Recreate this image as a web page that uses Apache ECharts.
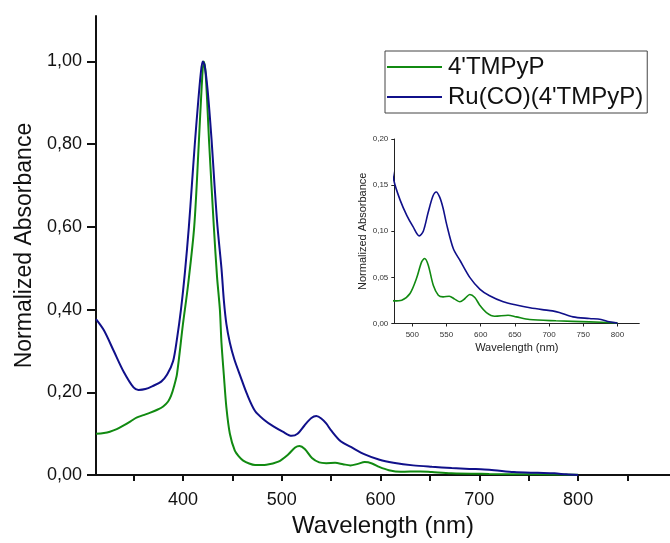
<!DOCTYPE html>
<html>
  <head>
    <meta http-equiv="content-type" content="text/html; charset=UTF-8">
    <title>Normalized absorbance</title>
    <script src="https://cdn.jsdelivr.net/npm/echarts@6/dist/echarts.min.js"></script>
    <style>
      html, body { margin: 0; padding: 0; background: #fff; }
      #main { width: 670px; height: 543px; }
    </style>
  </head>
  <body>
    <div id="main"></div>
    <script>
      // Ru(CO)(4'TMPyP) - blue
      var ruNm = [312, 320, 330, 340, 350, 355, 362, 370, 378, 384, 390, 394, 398, 402, 406, 409, 412, 415, 418, 420,
                  422, 425, 429, 432, 435, 439, 441.5, 444, 447.5, 452, 458, 465, 473, 482, 492, 501, 510, 516, 523, 530,
                  535, 540, 545, 550, 560, 570, 584, 599, 613, 633, 652, 672, 690, 705, 715, 735, 759, 776, 788, 800];
      var ruAbs = [0.377, 0.35, 0.30, 0.25, 0.212, 0.206, 0.208, 0.216, 0.226, 0.243, 0.275, 0.33, 0.40, 0.49, 0.60, 0.70, 0.80, 0.89, 0.97, 1.0,
                   0.99, 0.93, 0.81, 0.70, 0.60, 0.50, 0.42, 0.365, 0.32, 0.28, 0.24, 0.195, 0.155, 0.134, 0.117, 0.105, 0.095, 0.100, 0.120, 0.138,
                   0.1426, 0.137, 0.125, 0.108, 0.081, 0.068, 0.050, 0.037, 0.030, 0.0235, 0.020, 0.017, 0.015, 0.0137, 0.012, 0.0072, 0.0054, 0.0043, 0.0018, 0.0004];

      // 4'TMPyP - green
      var tmpNm = [312, 320, 326, 333, 340, 347, 353, 360, 367, 374, 380, 385, 388, 391, 394, 400, 405, 411.4, 416, 419,
                   421, 423, 426.6, 431.3, 434.5, 437.4, 439, 441.4, 444, 447.5, 452.5, 457, 461, 467, 473, 484.5, 496.6, 506, 513.6, 518,
                   523.3, 530.6, 538, 545, 554, 562, 569.5, 577, 584, 591.4, 598.6, 608.4, 620.5, 640, 652, 671.5, 710, 759, 800];
      var tmpAbs = [0.100, 0.102, 0.105, 0.111, 0.120, 0.130, 0.139, 0.145, 0.151, 0.158, 0.166, 0.178, 0.192, 0.215, 0.245, 0.365, 0.456, 0.60, 0.80, 0.94,
                    1.0, 0.97, 0.80, 0.60, 0.48, 0.40, 0.32, 0.242, 0.163, 0.10, 0.059, 0.044, 0.035, 0.028, 0.0245, 0.0253, 0.0325, 0.0487, 0.0668, 0.0704,
                    0.0632, 0.0415, 0.0307, 0.0289, 0.0296, 0.0264, 0.0235, 0.0271, 0.0314, 0.0282, 0.0199, 0.0119, 0.0079, 0.009, 0.0072, 0.0043, 0.0029, 0.0018, 0.0007];

      var xLabels = [400, 500, 600, 700, 800];
      var xTicks = [350, 400, 450, 500, 550, 600, 650, 700, 750, 800, 850];
      var yLabels = [0, 0.2, 0.4, 0.6, 0.8, 1.0];
      var insetXLabels = [500, 550, 600, 650, 700, 750, 800];

      var GREEN = '#118a11';
      var BLUE = '#10108a';
      var FONT = 'Liberation Sans, Arial, sans-serif';

      function pairs(xs, ys) {
        var out = [];
        for (var i = 0; i < xs.length; i++) out.push([xs[i], ys[i]]);
        return out;
      }
      function comma(v) { return v.toFixed(2).replace('.', ','); }

      var ruData = pairs(ruNm, ruAbs);
      var tmpData = pairs(tmpNm, tmpAbs);

      var chart = echarts.init(document.getElementById('main'));
      var option = {
        backgroundColor: '#fff',
        animation: false,
        textStyle: { fontFamily: FONT },
        legend: {
          orient: 'vertical',
          left: 385,
          top: 51,
          padding: [3, 4, 3, 2],
          itemGap: 4,
          icon: 'rect',
          itemWidth: 55,
          itemHeight: 2,
          borderColor: '#444',
          borderWidth: 1,
          textStyle: { fontSize: 24, color: '#111', lineHeight: 26, padding: [0, 0, 0, 1] },
          data: ["4'TMPyP", "Ru(CO)(4'TMPyP)"]
        },
        grid: [
          { left: 96, top: 16, right: 0, bottom: 61.5 },
          { left: 394.3, top: 139, right: 30.7, bottom: 219.5 }
        ],
        xAxis: [
          {
            gridIndex: 0, type: 'value', min: 312, max: 893,
            name: 'Wavelength (nm)', nameLocation: 'middle', nameGap: 36,
            nameTextStyle: { fontSize: 24, color: '#111' },
            axisLine: { lineStyle: { color: '#111', width: 2 } },
            axisTick: { customValues: xTicks, length: 6, lineStyle: { color: '#111', width: 2 } },
            axisLabel: { customValues: xLabels, fontSize: 18, color: '#111', margin: 16 },
            splitLine: { show: false }
          },
          {
            gridIndex: 1, type: 'value', min: 473.6, max: 832,
            name: 'Wavelength (nm)', nameLocation: 'middle', nameGap: 19,
            nameTextStyle: { fontSize: 11, color: '#222' },
            axisLine: { lineStyle: { color: '#222', width: 1 } },
            axisTick: { customValues: insetXLabels, length: 3, lineStyle: { color: '#222' } },
            axisLabel: { customValues: insetXLabels, fontSize: 8, color: '#333', margin: 7 },
            splitLine: { show: false }
          }
        ],
        yAxis: [
          {
            gridIndex: 0, type: 'value', min: 0, max: 1.11,
            name: 'Normalized Absorbance', nameLocation: 'middle', nameGap: 60,
            nameTextStyle: { fontSize: 23, color: '#111' },
            axisLine: { show: true, lineStyle: { color: '#111', width: 2 } },
            axisTick: { show: true, customValues: yLabels, length: 9, lineStyle: { color: '#111', width: 2 } },
            axisLabel: { customValues: yLabels, fontSize: 18, color: '#111', margin: 14, formatter: comma },
            splitLine: { show: false }
          },
          {
            gridIndex: 1, type: 'value', min: 0, max: 0.2, interval: 0.05,
            name: 'Normalized Absorbance', nameLocation: 'middle', nameGap: 25,
            nameTextStyle: { fontSize: 11, color: '#222' },
            axisLine: { show: true, lineStyle: { color: '#222', width: 1 } },
            axisTick: { show: true, length: 3, lineStyle: { color: '#222' } },
            axisLabel: { fontSize: 8, color: '#333', margin: 6, formatter: comma },
            splitLine: { show: false }
          }
        ],
        series: [
          {
            name: "4'TMPyP", type: 'line', xAxisIndex: 0, yAxisIndex: 0,
            data: tmpData, smooth: 0.3, symbol: 'none', clip: true,
            lineStyle: { color: GREEN, width: 2 }, itemStyle: { color: GREEN }
          },
          {
            name: "Ru(CO)(4'TMPyP)", type: 'line', xAxisIndex: 0, yAxisIndex: 0,
            data: ruData, smooth: 0.3, symbol: 'none', clip: true,
            lineStyle: { color: BLUE, width: 2 }, itemStyle: { color: BLUE }
          },
          {
            name: "4'TMPyP", type: 'line', xAxisIndex: 1, yAxisIndex: 1,
            data: tmpData, smooth: 0.3, symbol: 'none', clip: true,
            lineStyle: { color: GREEN, width: 1.6 }, itemStyle: { color: GREEN }
          },
          {
            name: "Ru(CO)(4'TMPyP)", type: 'line', xAxisIndex: 1, yAxisIndex: 1,
            data: ruData, smooth: 0.3, symbol: 'none', clip: true,
            lineStyle: { color: BLUE, width: 1.6 }, itemStyle: { color: BLUE }
          }
        ]
      };
      chart.setOption(option);
    </script>
  </body>
</html>
